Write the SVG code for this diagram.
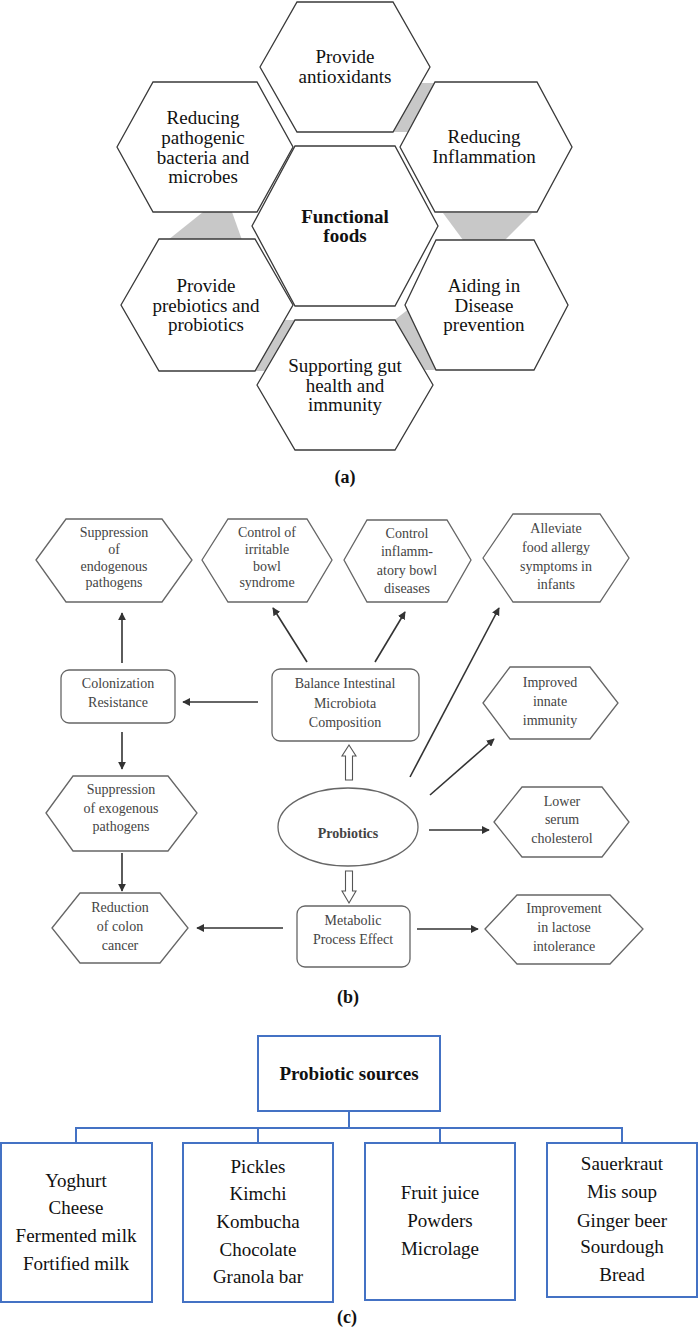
<svg xmlns="http://www.w3.org/2000/svg" width="699" height="1331" viewBox="0 0 699 1331">
<defs>
<marker id="ah" viewBox="0 0 10 10" refX="9" refY="5" markerWidth="8" markerHeight="8" markerUnits="userSpaceOnUse" orient="auto">
<path d="M0,0 L10,5 L0,10 z" fill="#333"/>
</marker>
</defs>
<style>
.ha{fill:#fff;stroke:#3a3a3a;stroke-width:1.3}
.g{fill:#c8c8c8}
.ta{font-family:"Liberation Serif",serif;font-size:19px;fill:#111;text-anchor:middle}
.tb{font-family:"Liberation Serif",serif;font-size:14px;fill:#444;text-anchor:middle}
.hb{fill:#fff;stroke:#666;stroke-width:1.3}
.rb{fill:#fff;stroke:#666;stroke-width:1.3}
.ar{stroke:#333;stroke-width:1.6;fill:none;marker-end:url(#ah)}
.hol{fill:#fff;stroke:#555;stroke-width:1.1}
.bc{fill:#fff;stroke:#4472C4;stroke-width:2}
.tc{font-family:"Liberation Serif",serif;font-size:19px;fill:#111;text-anchor:middle}
.lc{stroke:#4472C4;stroke-width:2;fill:none}
.cap{font-family:"Liberation Serif",serif;font-size:18px;font-weight:bold;fill:#111;text-anchor:middle}
</style>

<!-- Part (a) -->
<g id="a-connectors">
<polygon class="g" points="418,83 440,83 412,132 388,132"/>
<polygon class="g" points="203,212 232,212 242,240 168,240"/>
<polygon class="g" points="443,213 532,213 505,240 463,240"/>
<polygon class="g" points="278,320 300,320 270,371 250,371"/>
<polygon class="g" points="392,322 410,308 445,370 425,370"/>
</g>
<g id="a-top">
<polygon class="ha" points="260,67 297,2 393,2 430,67 393,132 297,132"/>
<text class="ta" x="345" y="63">Provide</text>
<text class="ta" x="345" y="83">antioxidants</text>
</g>
<g id="a-left">
<polygon class="ha" points="117,147 153,82 257,82 293,147 257,212 153,212"/>
<text class="ta" x="203" y="124">Reducing</text>
<text class="ta" x="203" y="144">pathogenic</text>
<text class="ta" x="203" y="164">bacteria and</text>
<text class="ta" x="203" y="183">microbes</text>
</g>
<g id="a-right">
<polygon class="ha" points="400,147 435,82 537,82 572,147 537,212 435,212"/>
<text class="ta" x="484" y="143">Reducing</text>
<text class="ta" x="484" y="163">Inflammation</text>
</g>
<g id="a-center">
<polygon class="ha" points="252,226 295,146 395,146 438,226 395,306 295,306"/>
<text class="ta" x="345" y="223" font-weight="bold">Functional</text>
<text class="ta" x="345" y="242" font-weight="bold">foods</text>
</g>
<g id="a-bottomleft">
<polygon class="ha" points="121,305 159,239 255,239 293,305 255,371 159,371"/>
<text class="ta" x="206" y="292">Provide</text>
<text class="ta" x="206" y="312">prebiotics and</text>
<text class="ta" x="206" y="331">probiotics</text>
</g>
<g id="a-bottom">
<polygon class="ha" points="257,385 295,320 395,320 433,385 395,450 295,450"/>
<text class="ta" x="345" y="372">Supporting gut</text>
<text class="ta" x="345" y="392">health and</text>
<text class="ta" x="345" y="411">immunity</text>
</g>
<g id="a-bottomright">
<polygon class="ha" points="405,305 436,240 534,240 568,305 534,370 436,370"/>
<text class="ta" x="484" y="292">Aiding in</text>
<text class="ta" x="484" y="312">Disease</text>
<text class="ta" x="484" y="331">prevention</text>
</g>
<text class="cap" x="345" y="483">(a)</text>

<!-- Part (b) -->
<g id="b-connectors">
<line class="ar" x1="122" y1="663" x2="122" y2="613"/>
<line class="ar" x1="307" y1="662" x2="273" y2="608"/>
<line class="ar" x1="375" y1="662" x2="405" y2="612"/>
<line class="ar" x1="410" y1="777" x2="499" y2="608"/>
<line class="ar" x1="430" y1="795" x2="494" y2="739"/>
<line class="ar" x1="429" y1="830" x2="489" y2="830"/>
<line class="ar" x1="258" y1="702" x2="183" y2="702"/>
<line class="ar" x1="122" y1="732" x2="122" y2="769"/>
<line class="ar" x1="122" y1="853" x2="122" y2="891"/>
<line class="ar" x1="283" y1="928" x2="197" y2="928"/>
<line class="ar" x1="417" y1="929" x2="478" y2="929"/>
<polygon class="hol" points="349,745 356,756 352.5,756 352.5,780 345.5,780 345.5,756 342,756"/>
<polygon class="hol" points="349,903 356,891 352.5,891 352.5,871 345.5,871 345.5,891 342,891"/>
</g>
<g id="b-endogenous">
<polygon class="hb" points="36,560 66,519 162,519 192,560 162,602 66,602"/>
<text class="tb" x="114" y="537">Suppression</text>
<text class="tb" x="114" y="554">of</text>
<text class="tb" x="114" y="571">endogenous</text>
<text class="tb" x="114" y="587">pathogens</text>
</g>
<g id="b-ibs">
<polygon class="hb" points="202,560 228,519 307,519 332,560 307,602 228,602"/>
<text class="tb" x="267" y="537">Control of</text>
<text class="tb" x="267" y="554">irritable</text>
<text class="tb" x="267" y="571">bowl</text>
<text class="tb" x="267" y="587">syndrome</text>
</g>
<g id="b-ibd">
<polygon class="hb" points="344,560 367,520 447,520 471,560 447,602 367,602"/>
<text class="tb" x="407" y="538">Control</text>
<text class="tb" x="407" y="556">inflamm-</text>
<text class="tb" x="407" y="575">atory bowl</text>
<text class="tb" x="407" y="593">diseases</text>
</g>
<g id="b-allergy">
<polygon class="hb" points="483,558 513,514 600,514 629,558 600,602 513,602"/>
<text class="tb" x="556" y="533">Alleviate</text>
<text class="tb" x="556" y="552">food allergy</text>
<text class="tb" x="556" y="571">symptoms in</text>
<text class="tb" x="556" y="589">infants</text>
</g>
<g id="b-colonization">
<rect class="rb" x="61" y="670" width="114" height="53" rx="8"/>
<text class="tb" x="118" y="688">Colonization</text>
<text class="tb" x="118" y="707">Resistance</text>
</g>
<g id="b-balance">
<rect class="rb" x="272" y="669" width="147" height="72" rx="8"/>
<text class="tb" x="345" y="688">Balance Intestinal</text>
<text class="tb" x="345" y="708">Microbiota</text>
<text class="tb" x="345" y="727">Composition</text>
</g>
<g id="b-innate">
<polygon class="hb" points="483,703 510,667 590,667 618,703 590,739 510,739"/>
<text class="tb" x="550" y="687">Improved</text>
<text class="tb" x="550" y="706">innate</text>
<text class="tb" x="550" y="725">immunity</text>
</g>
<g id="b-exogenous">
<polygon class="hb" points="46,813 73,776 168,776 197,813 168,851 73,851"/>
<text class="tb" x="121" y="794">Suppression</text>
<text class="tb" x="121" y="813">of exogenous</text>
<text class="tb" x="121" y="831">pathogens</text>
</g>
<g id="b-probiotics">
<ellipse cx="348" cy="827" rx="70" ry="39" fill="#fff" stroke="#666" stroke-width="1.3"/>
<text class="tb" x="348" y="838" font-weight="bold" font-size="15" fill="#333">Probiotics</text>
</g>
<g id="b-cholesterol">
<polygon class="hb" points="494,822 522,787 602,787 629,822 602,857 522,857"/>
<text class="tb" x="562" y="806">Lower</text>
<text class="tb" x="562" y="824">serum</text>
<text class="tb" x="562" y="843">cholesterol</text>
</g>
<g id="b-colon">
<polygon class="hb" points="52,928 80,893 160,893 188,928 160,963 80,963"/>
<text class="tb" x="120" y="912">Reduction</text>
<text class="tb" x="120" y="931">of colon</text>
<text class="tb" x="120" y="950">cancer</text>
</g>
<g id="b-metabolic">
<rect class="rb" x="297" y="906" width="113" height="61" rx="8"/>
<text class="tb" x="353" y="925">Metabolic</text>
<text class="tb" x="353" y="944">Process Effect</text>
</g>
<g id="b-lactose">
<polygon class="hb" points="485,929 517,895 610,895 643,929 610,964 517,964"/>
<text class="tb" x="564" y="913">Improvement</text>
<text class="tb" x="564" y="932">in lactose</text>
<text class="tb" x="564" y="951">intolerance</text>
</g>
<text class="cap" x="348" y="1003">(b)</text>

<!-- Part (c) -->
<g id="c-connectors">
<polyline class="lc" points="349,1111 349,1128"/>
<polyline class="lc" points="76,1143 76,1128 622,1128 622,1143"/>
<line class="lc" x1="258" y1="1128" x2="258" y2="1143"/>
<line class="lc" x1="440" y1="1128" x2="440" y2="1143"/>
</g>
<g id="c-root">
<rect class="bc" x="258" y="1036" width="182" height="75"/>
<text class="tc" x="349" y="1080" font-weight="bold">Probiotic sources</text>
</g>
<g id="c-dairy">
<rect class="bc" x="1" y="1143" width="151" height="159"/>
<text class="tc" x="76" y="1187">Yoghurt</text>
<text class="tc" x="76" y="1214">Cheese</text>
<text class="tc" x="76" y="1242">Fermented milk</text>
<text class="tc" x="76" y="1270">Fortified milk</text>
</g>
<g id="c-fermented">
<rect class="bc" x="183" y="1143" width="150" height="159"/>
<text class="tc" x="258" y="1173">Pickles</text>
<text class="tc" x="258" y="1200">Kimchi</text>
<text class="tc" x="258" y="1228">Kombucha</text>
<text class="tc" x="258" y="1256">Chocolate</text>
<text class="tc" x="258" y="1283">Granola bar</text>
</g>
<g id="c-juice">
<rect class="bc" x="365" y="1143" width="150" height="157"/>
<text class="tc" x="440" y="1199">Fruit juice</text>
<text class="tc" x="440" y="1227">Powders</text>
<text class="tc" x="440" y="1255">Microlage</text>
</g>
<g id="c-other">
<rect class="bc" x="547" y="1143" width="150" height="154"/>
<text class="tc" x="622" y="1170">Sauerkraut</text>
<text class="tc" x="622" y="1198">Mis soup</text>
<text class="tc" x="622" y="1227">Ginger beer</text>
<text class="tc" x="622" y="1253">Sourdough</text>
<text class="tc" x="622" y="1281">Bread</text>
</g>
<text class="cap" x="347" y="1323">(c)</text>
</svg>
